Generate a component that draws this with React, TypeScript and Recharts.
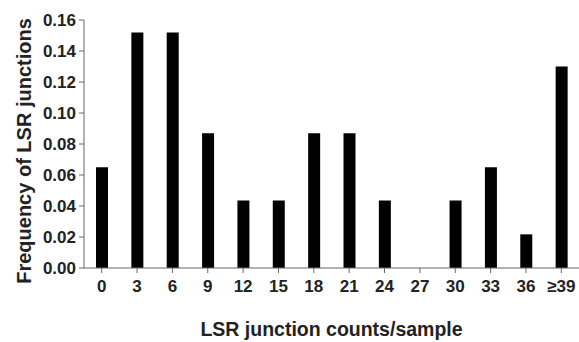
import React from 'react';
import { BarChart, Bar, XAxis, YAxis } from 'recharts';

// counts per sample bucket and their frequency
const categories = ['0', '3', '6', '9', '12', '15', '18', '21', '24', '27', '30', '33', '36', '≥39'];
const frequencies = [0.065, 0.152, 0.152, 0.087, 0.0435, 0.0435, 0.087, 0.087, 0.0435, 0, 0.0435, 0.065, 0.0217, 0.13];
const yTicks = [0, 0.02, 0.04, 0.06, 0.08, 0.1, 0.12, 0.14, 0.16];

const data = categories.map((c, i) => ({ bucket: c, freq: frequencies[i] }));

const font = 'Arial, "Liberation Sans", sans-serif';
const axisColor = '#666';
const textColor = '#222';

const YLabel = (props: any) => {
  const { viewBox } = props;
  const cx = 24;
  const cy = viewBox.y + viewBox.height / 2 + 7;
  return (
    <text
      x={cx}
      y={cy}
      transform={`rotate(-90, ${cx}, ${cy})`}
      textAnchor="middle"
      dominantBaseline="central"
      fontFamily={font}
      fontWeight="bold"
      fontSize={20}
      fill={textColor}
    >
      Frequency of LSR junctions
    </text>
  );
};

const App: React.FC = () => {
  return (
    <div style={{ position: 'absolute', left: 0, top: 0, background: '#fff' }}>
      <BarChart width={579} height={342} data={data} margin={{ top: 20, right: 0, left: 0, bottom: 0 }} barCategoryGap={0}>
        <XAxis
          dataKey="bucket"
          height={74}
          stroke={axisColor}
          tickSize={5}
          tickMargin={7}
          tick={{ fill: textColor, fontFamily: font, fontWeight: 'bold', fontSize: 17 }}
          interval={0}
          label={{
            value: 'LSR junction counts/sample',
            position: 'insideBottom',
            offset: 6,
            style: { fill: textColor, fontFamily: font, fontWeight: 'bold', fontSize: 19.5 },
          }}
        />
        <YAxis
          width={84}
          domain={[0, 0.16]}
          ticks={yTicks}
          stroke={axisColor}
          tickSize={5}
          tickMargin={3}
          tickFormatter={(v: number) => v.toFixed(2)}
          tick={{ fill: textColor, fontFamily: font, fontWeight: 'bold', fontSize: 17 }}
          label={<YLabel />}
        />
        <Bar dataKey="freq" fill="#000" barSize={12} isAnimationActive={false} />
      </BarChart>
    </div>
  );
};

export default App;
